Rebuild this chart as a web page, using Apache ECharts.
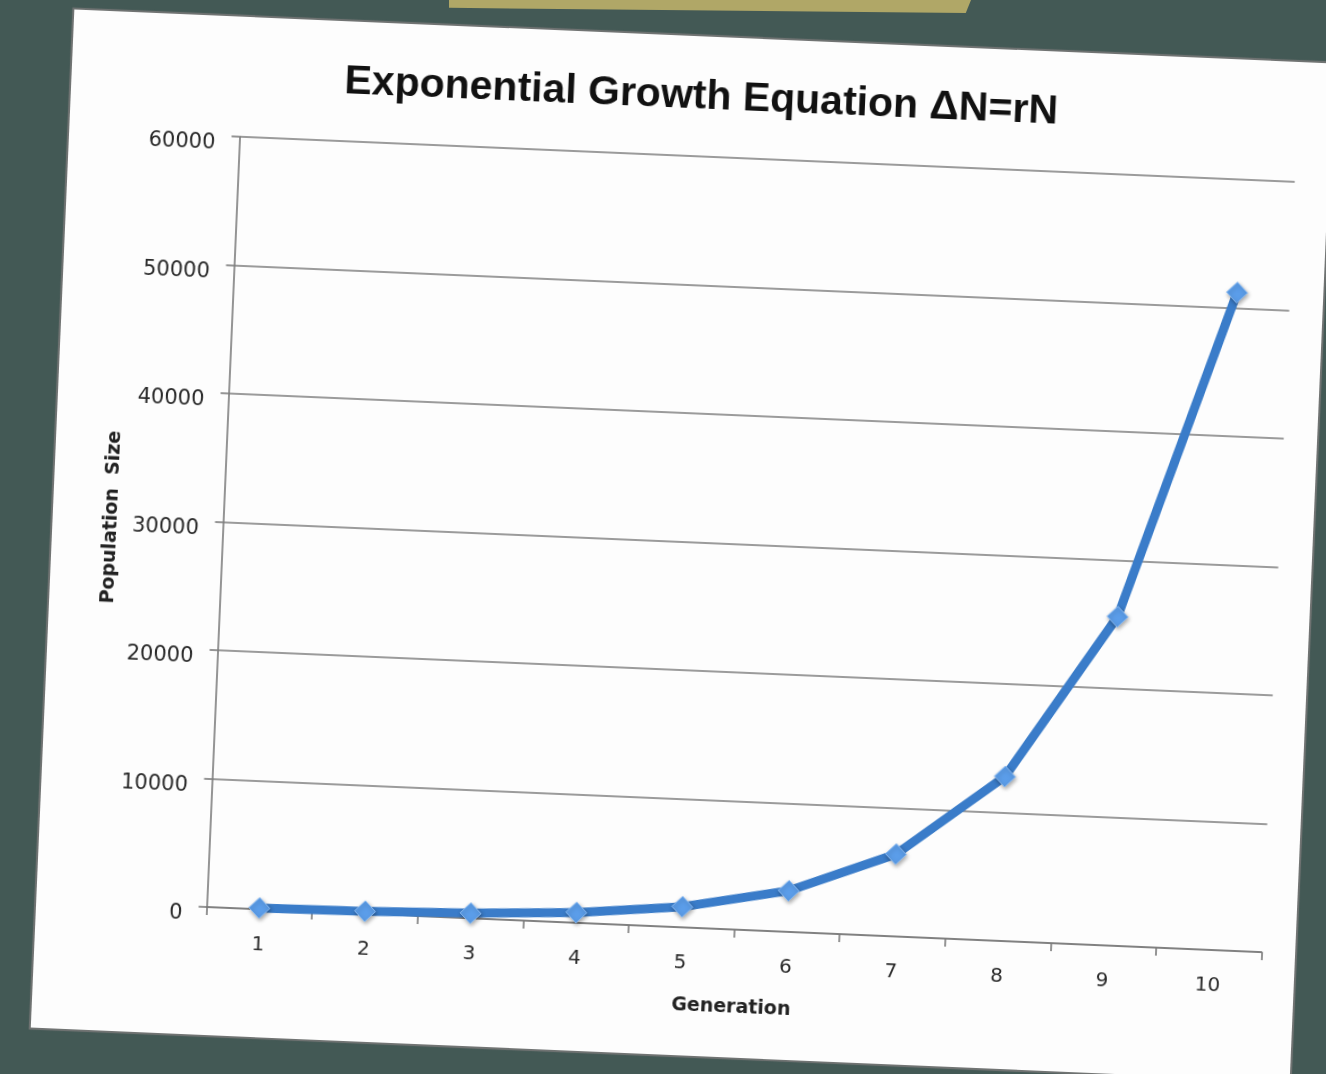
<!DOCTYPE html>
<html>
<head>
<meta charset="utf-8">
<title>Exponential Growth Equation</title>
<script src="https://cdn.jsdelivr.net/npm/echarts@6/dist/echarts.min.js"></script>
<style>
  html, body { margin: 0; padding: 0; width: 1326px; height: 1074px; overflow: hidden; background: #435955; }
  /* tan card peeking in at the top edge */
  #tab {
    position: absolute; left: 449px; top: 0; width: 522px; height: 13px;
    background: #b0a767;
    clip-path: polygon(0 0, 100% 0, 99% 100%, 0 60%);
  }
  /* the printed sheet, slightly tilted */
  #sheet {
    position: absolute; left: 52px; top: 35.5px; width: 1260px; height: 1019px;
    background: #fdfdfd;
    box-shadow: 0 0 1px 2px rgba(120,120,120,0.9);
    transform: rotate(2.45deg); transform-origin: 50% 50%;
  }
  #chart { position: absolute; left: 0; top: 0; width: 1260px; height: 1019px; }
</style>
</head>
<body>
<div id="tab"></div>
<div id="sheet"><div id="chart"></div></div>
<script>
// Generations on the x axis
const generations = ['1', '2', '3', '4', '5', '6', '7', '8', '9', '10'];
// Population size per generation
const populationSize = [100, 200, 400, 800, 1600, 3200, 6400, 12800, 25600, 51200];
// Value-axis range and step
const yMin = 0;
const yMax = 60000;
const yStep = 10000;

const chart = echarts.init(document.getElementById('chart'), null, { renderer: 'canvas' });

const gridGray = '#7a7a7a';

chart.setOption({
  backgroundColor: 'transparent',
  animation: false,
  title: {
    text: 'Exponential Growth Equation \u0394N=rN',
    left: 'center',
    top: 35,
    textStyle: {
      fontFamily: "'Liberation Sans', Arial, sans-serif",
      fontWeight: 'bold',
      fontSize: 41,
      color: '#111'
    }
  },
  grid: {
    left: 170.5,
    top: 120,
    right: 33.4,
    bottom: 128,
    containLabel: false,
    outerBoundsMode: 'none'
  },
  xAxis: {
    type: 'category',
    data: generations,
    boundaryGap: true,
    name: 'Generation',
    nameLocation: 'middle',
    nameGap: 69,
    nameTextStyle: {
      fontFamily: "'DejaVu Sans', sans-serif",
      fontWeight: 'bold',
      fontSize: 19,
      color: '#222'
    },
    axisLine: { show: true, lineStyle: { color: gridGray, width: 1.6 } },
    axisTick: { show: true, length: 8, alignWithLabel: false, interval: 0, lineStyle: { color: gridGray, width: 1.6 } },
    axisLabel: {
      interval: 0,
      margin: 26,
      fontFamily: "'DejaVu Sans', sans-serif",
      fontSize: 20,
      color: '#2a2a2a'
    },
    splitLine: { show: false }
  },
  yAxis: {
    type: 'value',
    min: yMin,
    max: yMax,
    interval: yStep,
    name: 'Population  Size',
    nameLocation: 'middle',
    nameGap: 99,
    nameTextStyle: {
      fontFamily: "'DejaVu Sans', sans-serif",
      fontWeight: 'bold',
      fontSize: 19,
      color: '#222'
    },
    axisLine: { show: true, lineStyle: { color: gridGray, width: 1.6 } },
    axisTick: { show: true, length: 8, lineStyle: { color: gridGray, width: 1.6 } },
    axisLabel: {
      margin: 24,
      verticalAlign: 'top',
      lineHeight: 16,
      formatter: (v) => String(v),
      fontFamily: "'DejaVu Sans', sans-serif",
      fontSize: 21,
      color: '#2a2a2a'
    },
    splitLine: { show: true, lineStyle: { color: gridGray, width: 1.6 } }
  },
  series: [{
    type: 'line',
    data: populationSize,
    smooth: false,
    symbol: 'diamond',
    symbolSize: 21,
    lineStyle: { color: '#3a7cc9', width: 9 },
    itemStyle: {
      color: '#5b9de9',
      borderColor: '#8cbcf3',
      borderWidth: 1,
      shadowColor: 'rgba(0,0,0,0.35)',
      shadowBlur: 4,
      shadowOffsetX: 1,
      shadowOffsetY: 2
    },
    z: 3
  }]
});
</script>
</body>
</html>
